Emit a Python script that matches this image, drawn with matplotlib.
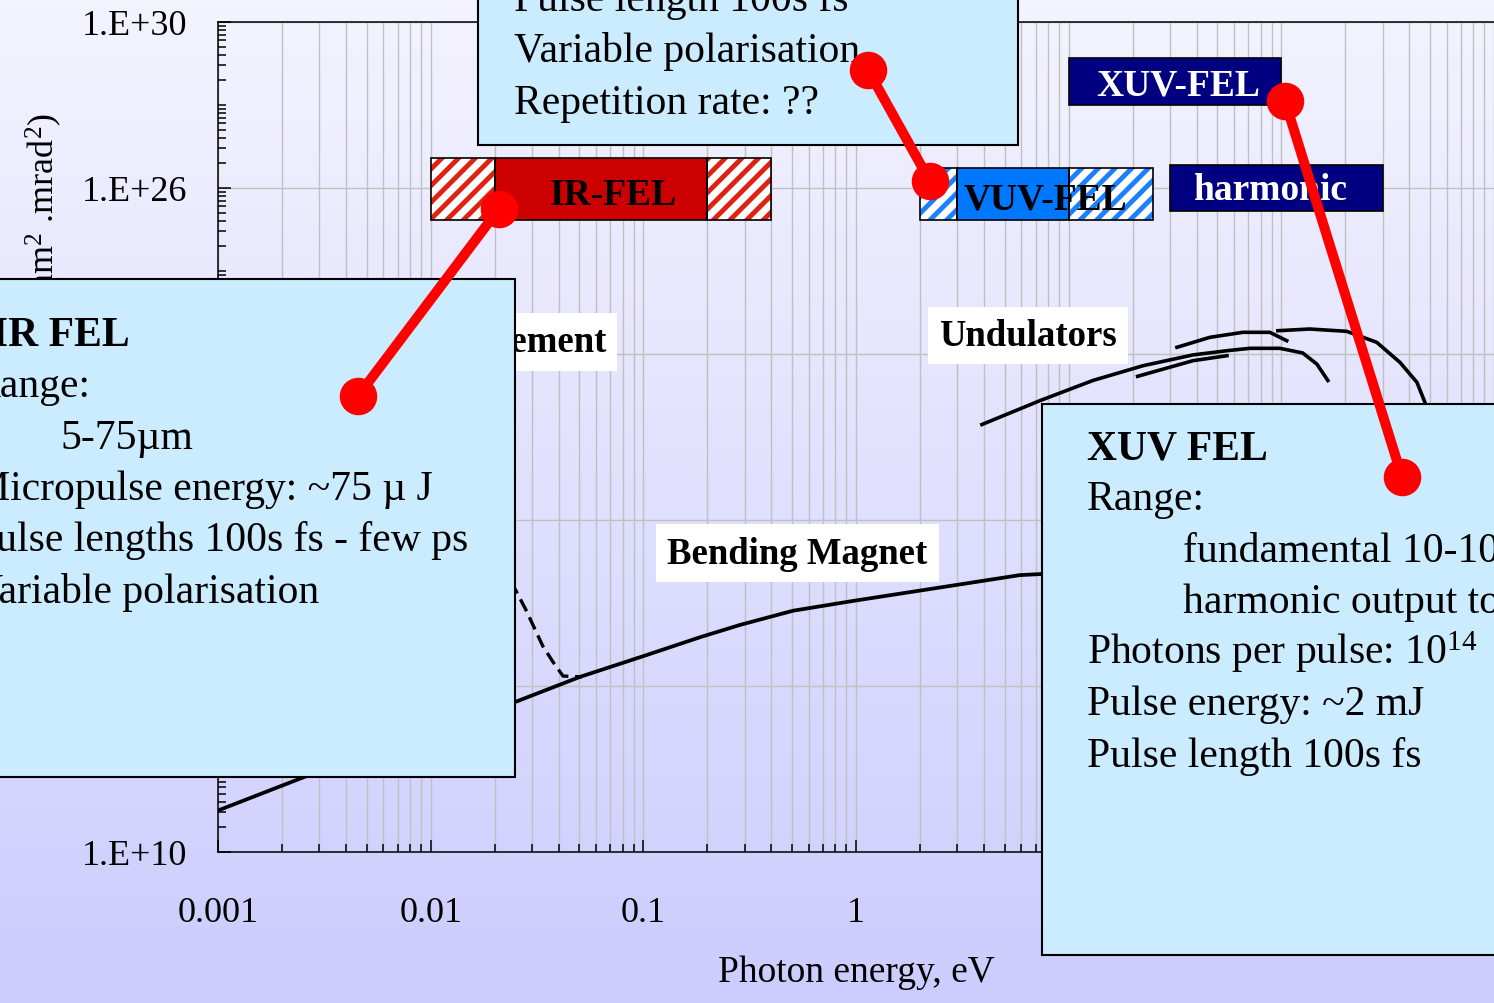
import numpy as np
import matplotlib
matplotlib.use("Agg")
import matplotlib.pyplot as plt
from matplotlib.patches import Rectangle, ConnectionPatch
from matplotlib.lines import Line2D
from matplotlib.ticker import FixedLocator, NullFormatter

# Fonts / global style
plt.rcParams['font.family'] = ['Liberation Serif', 'DejaVu Serif']
plt.rcParams['mathtext.fontset'] = 'custom'
plt.rcParams['mathtext.rm'] = 'Liberation Serif'
plt.rcParams['mathtext.default'] = 'regular'
plt.rcParams['hatch.linewidth'] = 3.5

W, H = 1494, 1004  # output size in pixels

# Axis ticks
x_ticks = [0.001, 0.01, 0.1, 1, 10, 100, 1000]
x_tick_labels = ['0.001', '0.01', '0.1', '1', '10', '100', '1000']
y_ticks = [1e10, 1e14, 1e18, 1e22, 1e26, 1e30]
y_tick_labels = ['1.E+10', '1.E+14', '1.E+18', '1.E+22', '1.E+26', '1.E+30']

# Bending magnet curve (photon energy eV, brilliance)
bm_energy = [0.001, 0.00256, 0.0249, 0.0504, 0.0995, 0.185, 0.284, 0.505,
             0.967, 2.06, 5.9, 7.5, 9.0]
bm_brill = [1.0e11, 6.5e11, 4.1e13, 1.66e14, 5.2e14, 1.5e15, 2.95e15, 6.5e15,
            1.12e16, 2.04e16, 4.7e16, 5.0e16, 5.6e16]

# IR enhancement (dashed)
ir_enh_energy = [0.021, 0.0249, 0.0279, 0.0337, 0.0376, 0.0419, 0.0514]
ir_enh_brill = [8.0e16, 2.2e16, 7.2e15, 9.1e14, 3.8e14, 1.74e14, 1.66e14]

# Undulator tuning curves
und1_energy = [3.91, 7.32, 13.0, 22.3, 38.4, 55.5, 71.1, 98.4, 126, 147, 165.5]
und1_brill = [2.0e20, 7.5e20, 2.3e21, 5.2e21, 9.5e21, 1.2e22, 1.37e22, 1.37e22,
              1.06e22, 5.7e21, 2.3e21]
und2_energy = [32.3, 46.1, 65.9, 88.3, 106]
und2_brill = [1.45e22, 2.52e22, 3.33e22, 3.33e22, 2.09e22]
und3_energy = [21.1, 38.4, 55.5]
und3_brill = [2.9e21, 6.9e21, 9.1e21]
und4_energy = [96.3, 136, 203, 281, 361, 434, 473, 510]
und4_brill = [3.64e22, 4.0e22, 3.52e22, 1.91e22, 6.3e21, 2.08e21, 6.9e20, 2.0e20]

# FEL bars: core range (solid) and tuning range (hatched)
fel_names = ['IR-FEL', 'VUV-FEL', 'XUV-FEL', 'harmonic']
fel_core_lo = [0.02, 3, 10, 30]
fel_core_hi = [0.2, 10, 100, 300]
fel_tune_lo = [0.01, 2, 10, 30]
fel_tune_hi = [0.4, 25, 100, 300]
fel_b_lo = [1.7e25, 1.65e25, 1.0e28, 2.8e25]
fel_b_hi = [5.3e26, 3.1e26, 1.33e29, 3.6e26]

# points where the red callouts touch the bars
pointer_energy = [0.021, 2.23, 104]
pointer_brill = [3.2e25, 1.44e26, 1.25e28]

# Colours
fel_fill = ['#cc0000', '#0077ff', '#000080', '#000080']
fel_hatch = ['#e02010', '#1a80ff', None, None]
fel_text = ['black', 'black', 'white', 'white']
box_fill = '#cbebff'


def fpx(x, y):
    # pixel position (from top-left) -> figure fraction
    return x / W, 1 - y / H


fig = plt.figure(figsize=(W / 100, H / 100), dpi=100)

# gradient background
bg = fig.add_axes([0, 0, 1, 1], zorder=-10)
grad = np.linspace(0, 1, 256)[:, None, None]
top_col = np.array([244, 244, 254]) / 255
bot_col = np.array([204, 204, 255]) / 255
bg.imshow(top_col + (bot_col - top_col) * grad, aspect='auto', extent=[0, 1, 0, 1])
bg.axis('off')

# main axes
ax = fig.add_axes([218 / W, 1 - 853 / H, (W - 218) / W, (853 - 23) / H])
ax.set_facecolor('none')
ax.set_xscale('log')
ax.set_yscale('log')
ax.set_xlim(1e-3, 1e3)
ax.set_ylim(1e10, 1e30)

ax.xaxis.set_major_locator(FixedLocator(x_ticks))
ax.set_xticklabels(x_tick_labels)
ax.xaxis.set_minor_locator(FixedLocator([k * 10.0 ** d for d in range(-3, 3) for k in range(2, 10)]))
ax.xaxis.set_minor_formatter(NullFormatter())
ax.yaxis.set_major_locator(FixedLocator(y_ticks))
ax.set_yticklabels(y_tick_labels)
ax.yaxis.set_minor_locator(FixedLocator([10.0 ** (e + 2 * np.log10(k)) for e in range(10, 30, 2) for k in range(1, 10)]))
ax.yaxis.set_minor_formatter(NullFormatter())

ax.tick_params(which='both', direction='in', width=1.1, colors='black', labelsize=26,
               top=False, right=False)
ax.tick_params(which='major', length=9)
ax.tick_params(which='minor', length=6)
ax.tick_params(axis='x', pad=32)
ax.tick_params(axis='y', pad=22)

ax.set_axisbelow(True)
ax.grid(True, which='both', axis='x', color='#c0c0c0', lw=1.0)
ax.grid(True, which='major', axis='y', color='#c0c0c0', lw=1.0)
ax.spines['right'].set_visible(False)
for s in ['left', 'bottom', 'top']:
    ax.spines[s].set_linewidth(1.1)

ax.set_xlabel('Photon energy, eV', fontsize=27, va='top')
ax.xaxis.set_label_coords(0.5, -0.1229)
ax.set_ylabel('Brilliance (photons/s/0.1%bw/mm$^{2}$ .mrad$^{2}$)', fontsize=26,
              ha='right', va='baseline')
ax.yaxis.set_label_coords((55 - 218) / 1276, (853 - 113) / 830)

# curves
ax.plot(bm_energy, bm_brill, color='black', lw=2.7, zorder=3)
ax.plot(ir_enh_energy, ir_enh_brill, color='black', lw=2.4, ls=(0, (4, 2)), zorder=3)
for e, b in [(und1_energy, und1_brill), (und2_energy, und2_brill),
             (und3_energy, und3_brill), (und4_energy, und4_brill)]:
    ax.plot(e, b, color='black', lw=2.6, zorder=3)

# FEL bars
label_offsets = [(12, -6), (9, -5), (3, -3), (-6, -2)]
for i, name in enumerate(fel_names):
    b0, b1 = fel_b_lo[i], fel_b_hi[i]
    sections = [(fel_core_lo[i], fel_core_hi[i], False)]
    if fel_tune_lo[i] < fel_core_lo[i]:
        sections.append((fel_tune_lo[i], fel_core_lo[i], True))
    if fel_tune_hi[i] > fel_core_hi[i]:
        sections.append((fel_core_hi[i], fel_tune_hi[i], True))
    for x0, x1, hatched in sections:
        if hatched:
            ax.add_patch(Rectangle((x0, b0), x1 - x0, b1 - b0, facecolor='white',
                                   edgecolor=fel_hatch[i], lw=0, hatch='//', zorder=4))
        else:
            ax.add_patch(Rectangle((x0, b0), x1 - x0, b1 - b0, facecolor=fel_fill[i],
                                   edgecolor='none', zorder=4))
        ax.add_patch(Rectangle((x0, b0), x1 - x0, b1 - b0, facecolor='none',
                               edgecolor='black', lw=1.2, zorder=5))
    xc = np.sqrt(fel_tune_lo[i] * fel_tune_hi[i])
    yc = np.sqrt(b0 * b1)
    ax.annotate(name, xy=(xc, yc), xytext=label_offsets[i], textcoords='offset pixels',
                ha='center', va='center', fontsize=27, fontweight='bold',
                color=fel_text[i], zorder=6)

# white labels
lbl = dict(fontsize=26.5, fontweight='bold', va='center', zorder=6,
           bbox=dict(boxstyle='square,pad=0.3', fc='white', ec='none'))
ax.text(0.530, 1.6e17, 'Bending Magnet', ha='center', **lbl)
ax.text(6.43, 2.8e22, 'Undulators', ha='center', **lbl)
ax.text(0.0667, 1.95e22, 'IR enhancement', ha='right', **lbl)

# red pointer dots on bars
ax.plot(pointer_energy, pointer_brill, 'o', color='red', ms=26, zorder=8, clip_on=False)


# info boxes (figure level, above the axes)
def add_box(x0, y0, x1, y1):
    fig.add_artist(Rectangle(fpx(x0, y1), (x1 - x0) / W, (y1 - y0) / H,
                             transform=fig.transFigure, facecolor=box_fill,
                             edgecolor='black', lw=1.5, zorder=5))


def add_lines(lines, y_first, step=51.3):
    for k, (txt, x, bold) in enumerate(lines):
        fig.text(*fpx(x, y_first + k * step), txt, fontsize=30, ha='left', va='baseline',
                 fontweight='bold' if bold else 'normal', zorder=6)


add_box(-10, 280, 515, 778)
add_lines([('IR FEL', -8, True),
           ('Range:', -27, False),
           ('5-75\u00b5m', 60, False),
           ('Micropulse energy: ~75 \u00b5 J', -27, False),
           ('Pulse lengths 100s fs - few ps', -27, False),
           ('Variable polarisation', -27, False)], 346)

add_box(478, -10, 1018, 146)
add_lines([('Pulse length 100s fs', 514, False),
           ('Variable polarisation', 514, False),
           ('Repetition rate: ??', 514, False)], 11)

add_box(1042, 405, 1520, 956)
add_lines([('XUV FEL', 1087, True),
           ('Range:', 1087, False),
           ('fundamental 10-100 eV', 1183, False),
           ('harmonic output to 300 eV', 1183, False),
           ('Photons per pulse: 10$^{14}$', 1087, False),
           ('Pulse energy: ~2 mJ', 1087, False),
           ('Pulse length 100s fs', 1087, False)], 459)

# red callout lines from bars to boxes
box_anchors = [(358, 397), (868, 71), (1402, 478)]
for i, (bx, by) in enumerate(box_anchors):
    con = ConnectionPatch(xyA=(pointer_energy[i], pointer_brill[i]), coordsA=ax.transData,
                          xyB=fpx(bx, by), coordsB=fig.transFigure,
                          color='red', lw=7.2, zorder=7)
    fig.add_artist(con)
    fig.add_artist(Line2D([fpx(bx, by)[0]], [fpx(bx, by)[1]], transform=fig.transFigure,
                          marker='o', ms=26, color='red', zorder=8))

fig.savefig('out.png', dpi=100)
